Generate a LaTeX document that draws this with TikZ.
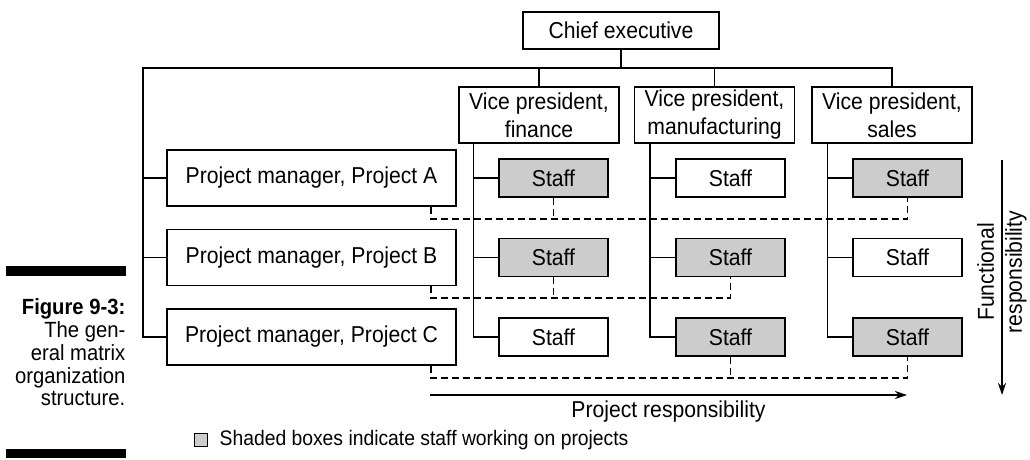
\documentclass[tikz,border=0pt]{standalone}
\usepackage{fontspec}
\setmainfont{Liberation Sans}[FakeStretch=0.92]
\usepackage{tikz}
\usetikzlibrary{arrows.meta}
\usetikzlibrary{positioning}
\definecolor{shade}{RGB}{204,204,204}
\newcommand\figcapfont{\fontsize{22}{22.8}\selectfont}

\begin{document}
\begin{tikzpicture}[x=1pt,y=-1pt,
  every node/.style={font=\fontsize{23}{28}\selectfont,inner sep=0pt},
  every path/.style={line width=1.3pt},
  box/.style={draw,fill=white,align=center},
  vpbox/.style={box,minimum width=160pt,minimum height=56pt},
  pmbox/.style={box,minimum width=289pt,minimum height=56pt},
  staffbox/.style={box,minimum width=109pt,minimum height=38pt},
  shaded/.style={fill=shade},
  proj/.style={dash pattern=on 7pt off 4pt},
]
\useasboundingbox (0,0) rectangle (1030,459);
% caption
\fill (6,266) rectangle (126,276); \fill (6,449) rectangle (126,458);
\node[anchor=north east,align=right,font=\figcapfont](cap) at (126,298)
  {\textbf{Figure 9-3:}\\The gen-\\eral matrix\\organization\\structure.};
% hierarchy
\node[box,minimum width=196pt,minimum height=37pt](ce) at(621,30.5){Chief executive};
\node[vpbox](vpf) at(539,115){Vice president,\\finance};
\node[vpbox](vpm) at(714.5,115){Vice president,\\manufacturing};
\node[vpbox](vps) at(892,115){Vice president,\\sales};
\node[pmbox](pma) at(311.5,178){Project manager, Project A};
\node[pmbox](pmb) at(311.5,257.5){Project manager, Project B};
\node[pmbox](pmc) at(311.5,337){Project manager, Project C};
\node[staffbox,shaded](sfa) at(553.5,178){Staff};
\node[staffbox,shaded](sfb) at(553.5,257.5){Staff};
\node[staffbox](sfc) at(553.5,337){Staff};
\node[staffbox](sma) at(730.5,178){Staff};
\node[staffbox,shaded](smb) at(730.5,257.5){Staff};
\node[staffbox,shaded](smc) at(730.5,337){Staff};
\node[staffbox,shaded](ssa) at(907.5,178){Staff};
\node[staffbox](ssb) at(907.5,257.5){Staff};
\node[staffbox,shaded](ssc) at(907.5,337){Staff};
\coordinate(bl) at(143,68);
\coordinate(vf) at([xshift=15pt]vpf.south west);
\coordinate(vm) at([xshift=16pt]vpm.south west);
\coordinate(vs) at([xshift=16pt]vps.south west);
\draw(ce)--(ce|-bl); \draw(pmc)-|(bl)-|(vps);
\draw(vpf)--(vpf|-bl); \draw(vpm)--(vpm|-bl);
\draw(pma)--(pma-|bl); \draw(pmb)--(pmb-|bl);
\draw(vf)|-(sfc); \draw(sfa)--(sfa-|vf); \draw(sfb)--(sfb-|vf);
\draw(vm)|-(smc); \draw(sma)--(sma-|vm); \draw(smb)--(smb-|vm);
\draw(vs)|-(ssc); \draw(ssa)--(ssa-|vs); \draw(ssb)--(ssb-|vs);
% project lines
\coordinate(la) at(431,219); \coordinate(lb) at(431,298); \coordinate(lc) at(431,378);
\draw[proj](la|-pma.south)--(la)-|(ssa); \draw[proj](sfa)--(sfa|-la);
\draw[proj](lb|-pmb.south)--(lb)-|(smb); \draw[proj](sfb)--(sfb|-lb);
\draw[proj](lc|-pmc.south)--(lc)-|(ssc); \draw[proj](smc)--(smc|-lc);
% responsibility arrows
\coordinate(pr0) at(430,395); \coordinate(pr1) at(907,395);
\draw[-{Stealth[length=12pt,width=8pt]}](pr0)--node[below=5pt](prl){Project responsibility}(pr1);
\coordinate(fr0) at(1002,160); \coordinate(fr1) at(1002,395);
\draw[-{Stealth[length=12pt,width=8pt]}](fr0)--(fr1);
\node[rotate=90,align=center](frl) at(1002,272){Functional\\responsibility};
% legend
\node[draw,shaded,line width=1pt,minimum size=13pt](lgbox) at(201,440){};
\node[right=11pt of lgbox,font=\fontsize{21}{28}\selectfont](lgtxt){Shaded boxes indicate staff working on projects};
\end{tikzpicture}
\end{document}
